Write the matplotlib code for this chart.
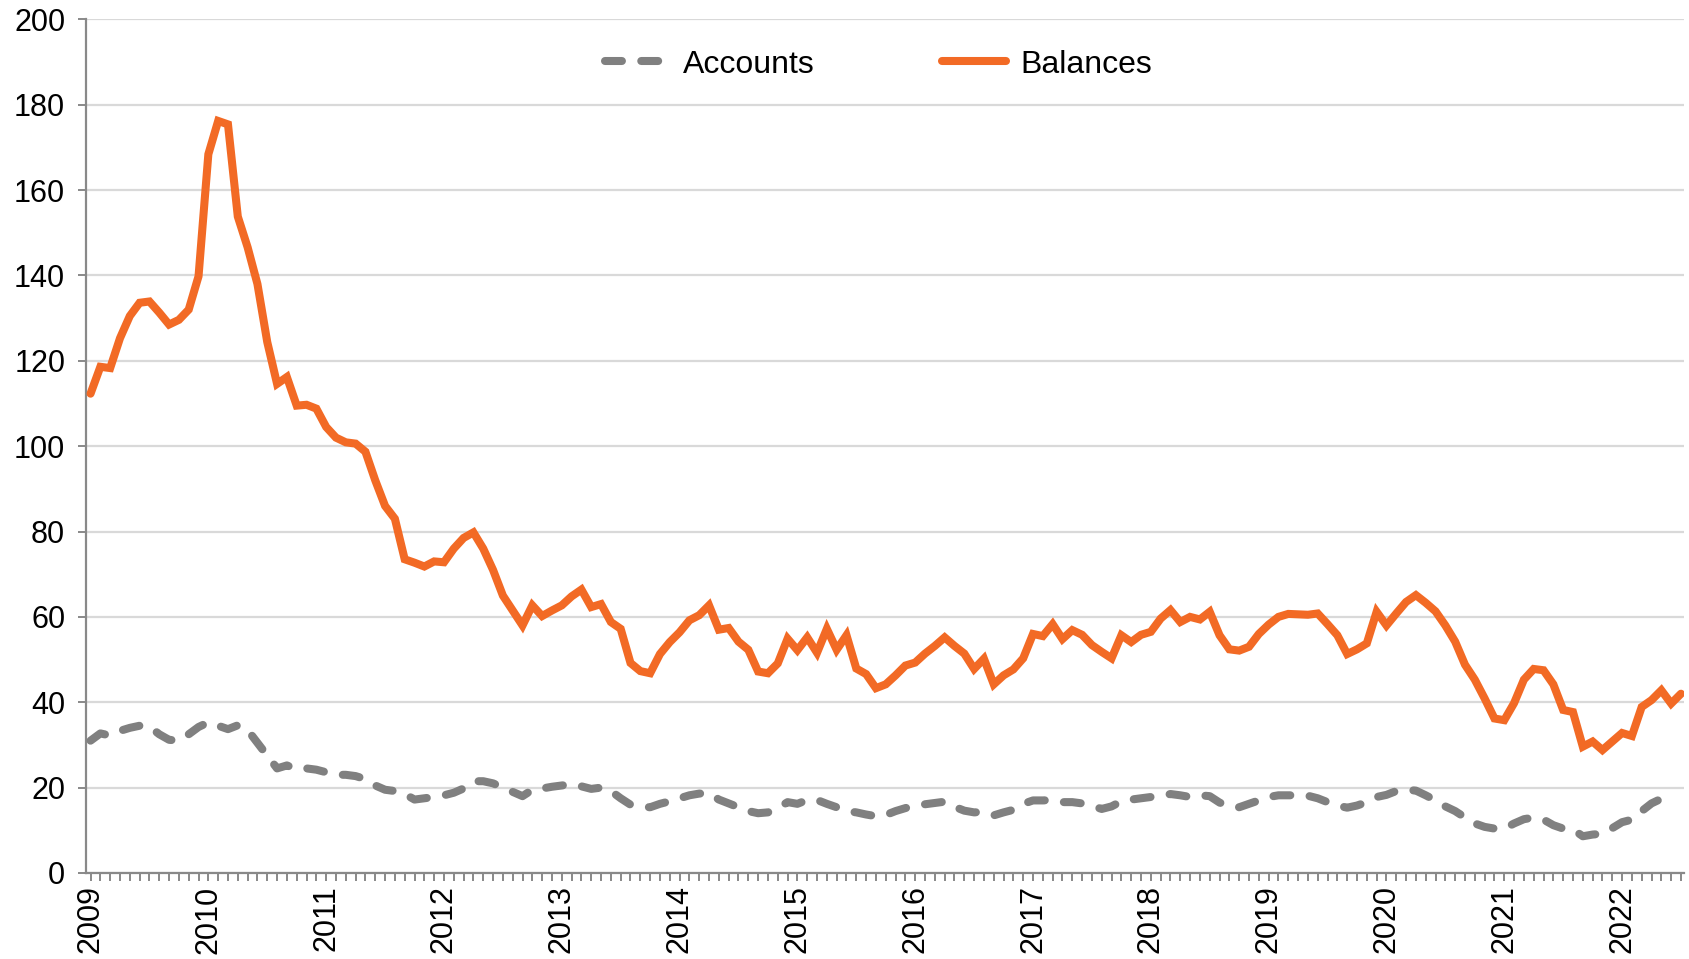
import matplotlib
matplotlib.use("Agg")
import matplotlib.pyplot as plt
import numpy as np

plt.rcParams['font.family'] = ['Liberation Sans', 'DejaVu Sans']

# Monthly series, January 2009 onwards
balances = [
    112.3, 118.6, 118.3, 125.3, 130.5, 133.6, 133.9, 131.3, 128.5, 129.6,
    132.0, 139.8, 168.4, 176.2, 175.4, 153.8, 146.6, 138.0, 124.4, 114.6,
    116.2, 109.5, 109.7, 108.8, 104.5, 102.0, 100.9, 100.6, 98.7, 92.0,
    86.0, 83.0, 73.5, 72.7, 71.8, 73.0, 72.8, 76.0, 78.5, 79.8,
    76.0, 71.0, 65.0, 61.5, 58.0, 62.7, 60.2, 61.5, 62.7, 64.8,
    66.4, 62.3, 63.0, 58.8, 57.2, 49.2, 47.3, 46.8, 51.3, 54.1,
    56.4, 59.2, 60.4, 62.7, 57.0, 57.4, 54.2, 52.3, 47.2, 46.8,
    49.1, 54.9, 52.2, 55.2, 51.6, 57.2, 52.3, 55.7, 47.9, 46.6,
    43.3, 44.2, 46.3, 48.6, 49.3, 51.4, 53.2, 55.2, 53.2, 51.4,
    47.8, 50.2, 44.2, 46.3, 47.7, 50.3, 56.0, 55.5, 58.3, 54.8,
    56.9, 55.8, 53.4, 51.8, 50.3, 55.7, 54.1, 55.8, 56.5, 59.6,
    61.6, 58.8, 60.0, 59.4, 61.2, 55.7, 52.4, 52.1, 53.0, 56.0,
    58.2, 60.0, 60.7, 60.6, 60.5, 60.8, 58.3, 55.7, 51.3, 52.4,
    53.8, 61.2, 58.0, 60.8, 63.5, 65.1, 63.3, 61.3, 58.0, 54.2,
    48.8, 45.3, 40.9, 36.2, 35.8, 39.8, 45.3, 47.8, 47.5, 44.2,
    38.2, 37.7, 29.6, 30.8, 28.8, 30.8, 32.8, 32.1, 38.9, 40.5,
    42.8, 39.7, 42.0,
]

accounts = [
    31.0, 32.7, 32.2, 33.3, 34.0, 34.5, 34.3, 32.5, 31.2, 31.0,
    32.5, 34.2, 35.3, 34.5, 33.7, 34.6, 33.5, 30.5, 27.5, 24.5,
    25.2, 24.3, 24.5, 24.2, 23.6, 23.0, 23.0, 22.7, 22.0, 20.5,
    19.5, 19.2, 18.5, 17.2, 17.5, 17.8, 18.2, 18.8, 19.8, 21.5,
    21.5, 21.0, 20.0, 19.0, 18.0, 19.5, 19.8, 20.2, 20.5, 20.8,
    20.3, 19.7, 20.0, 19.2, 17.5, 16.0, 15.5, 15.4, 16.2, 16.8,
    17.5, 18.2, 18.6, 18.7, 17.2, 16.3, 15.4, 14.5, 14.0, 14.2,
    15.2, 16.6, 16.2, 17.1, 17.1, 16.2, 15.4, 14.5, 14.2, 13.7,
    13.3, 13.6, 14.5, 15.2, 15.8, 16.1, 16.4, 16.7, 15.5, 14.6,
    14.2, 14.3, 13.5, 14.2, 14.8, 16.2, 17.0, 17.0, 17.1, 16.6,
    16.6, 16.3, 15.7, 15.0, 15.6, 16.8, 17.2, 17.5, 17.8, 18.0,
    18.5, 18.2, 17.8, 18.2, 18.0, 16.5, 15.6, 15.4, 16.2, 17.0,
    17.8, 18.2, 18.2, 18.2, 18.1, 17.5, 16.6, 15.8, 15.3, 15.8,
    16.6, 17.8, 18.3, 19.2, 19.5, 19.3, 18.2, 17.0, 15.6, 14.5,
    13.0, 11.6, 10.8, 10.4, 10.4, 11.6, 12.6, 13.0, 12.5, 11.2,
    10.4, 10.2, 8.6, 9.0, 9.2, 10.5, 11.9, 12.5, 14.5, 16.3,
    17.4, 16.6,
]

years = [str(y) for y in range(2009, 2023)]

ORANGE = '#F26A25'
GREY = '#808080'
GRID = '#D9D9D9'
AXIS = '#898989'

fig = plt.figure(figsize=(16.9, 9.59), dpi=100)
ax = fig.add_axes([0.0509, 0.0897, 0.9455, 0.8901])

lw = 5.8
x_bal = np.arange(len(balances))
x_acc = np.arange(len(accounts))

ax.plot(x_acc, accounts, color=GREY, lw=lw, linestyle=(0, (2.1, 2.4)),
        dash_capstyle='round', solid_capstyle='round', label='Accounts', zorder=3)
ax.plot(x_bal, balances, color=ORANGE, lw=lw, solid_capstyle='round',
        solid_joinstyle='miter', label='Balances', zorder=4)

ax.set_ylim(0, 200)
ax.set_xlim(-0.46, 162.3)

ax.set_yticks(np.arange(0, 201, 20))
ax.yaxis.grid(True, color=GRID, linewidth=1.6)
ax.set_axisbelow(True)

ax.set_xticks(np.arange(0, 12 * len(years), 12))
ax.set_xticklabels(years, rotation=90)
ax.set_xticks(np.arange(0, 163, 1), minor=True)

for side in ('top', 'right'):
    ax.spines[side].set_visible(False)
for side in ('left', 'bottom'):
    ax.spines[side].set_color(AXIS)
    ax.spines[side].set_linewidth(1.6)

ax.tick_params(axis='y', which='major', length=6, width=1.4, color=AXIS,
               labelsize=22, labelcolor='black', pad=9)
ax.tick_params(axis='x', which='both', length=6, width=1.4, color=AXIS,
               direction='out')
ax.tick_params(axis='x', which='major', labelsize=22, labelcolor='black', pad=3)

leg = ax.legend(loc='center', bbox_to_anchor=(0.496, 0.947), ncol=2,
                frameon=False, fontsize=23, handlelength=2.0,
                handletextpad=0.45, columnspacing=4.0, borderpad=0)

fig.savefig('out.png', dpi=100, facecolor='white')
